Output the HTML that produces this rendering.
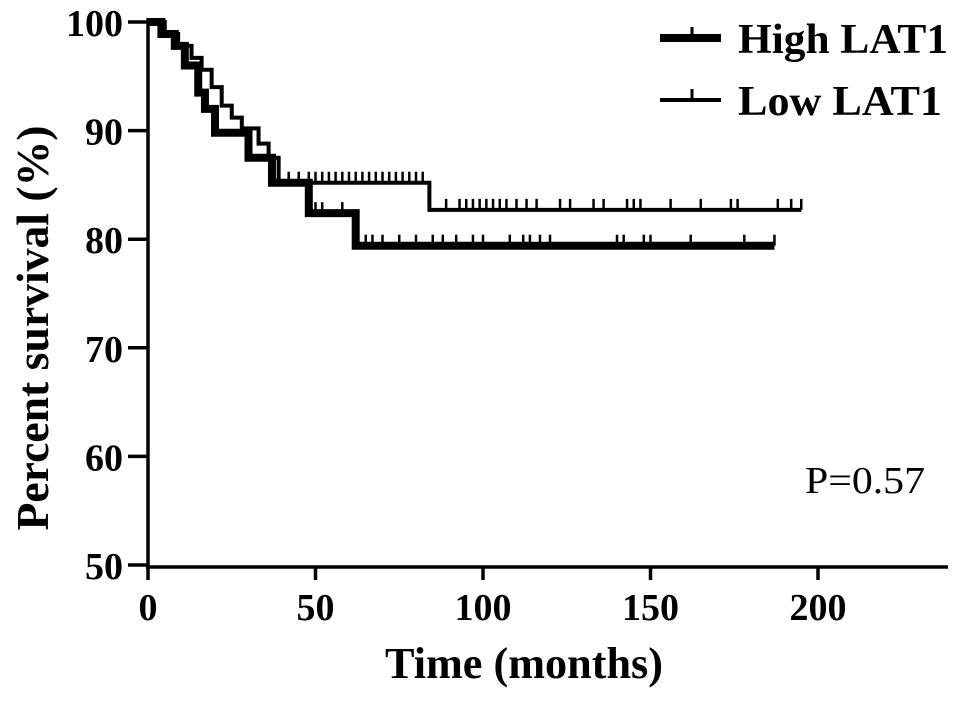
<!DOCTYPE html>
<html><head><meta charset="utf-8"><style>
body{margin:0;background:#fff}
svg text{font-family:"Liberation Serif",serif;fill:#000}
</style></head><body>
<svg id="chart" width="969" height="700" viewBox="0 0 969 700" xmlns="http://www.w3.org/2000/svg">
<g id="axes"></g>
<g id="series"></g>
<g>
  <line x1="660" y1="38" x2="721" y2="38" stroke="#000" stroke-width="8"/>
  <line x1="692" y1="38" x2="692" y2="27" stroke="#000" stroke-width="3"/>
  <text x="738" y="53" font-size="42" font-weight="bold" textLength="210" lengthAdjust="spacingAndGlyphs">High LAT1</text>
  <line x1="660" y1="100" x2="721" y2="100" stroke="#000" stroke-width="4"/>
  <line x1="692" y1="100" x2="692" y2="89" stroke="#000" stroke-width="3"/>
  <text x="738" y="115" font-size="42" font-weight="bold" textLength="204" lengthAdjust="spacingAndGlyphs">Low LAT1</text>
</g>
<text x="805" y="493" font-size="38" textLength="120" lengthAdjust="spacingAndGlyphs">P=0.57</text>
<text x="385" y="678" font-size="44" font-weight="bold" textLength="278" lengthAdjust="spacingAndGlyphs">Time (months)</text>
<text transform="translate(48,328) rotate(-90)" font-size="46" font-weight="bold" text-anchor="middle" textLength="405" lengthAdjust="spacingAndGlyphs">Percent survival (%)</text>
</svg>
<script>
const xTicks=[0,50,100,150,200];
const yTicks=[50,60,70,80,90,100];
const highTimes=[0,4,8,11,15,17,20,30,37,48,62];
const highSurv=[100,98.9,97.8,96,93.5,92,89.8,87.5,85.2,82.4,79.4];
const highEnd=187;
const highCensor=[50,52,58,65,67,70,75,80,85,88,92,97,100,108,112,114,117,120,140,142,148,150,162,178,187];
const lowTimes=[0,5,9,13,16,19,22,25,28,33,36,39,84];
const lowSurv=[100,98.9,97.8,96.7,95.6,94,92.3,91.2,90.2,88.8,87.5,85.2,82.7];
const lowEnd=195;
const lowCensor=[42,45,48,50,52,54,56,58,60,62,64,66,68,70,72,74,76,78,80,82,89,93,95,97,99,101,103,105,107,110,113,116,123,126,133,136,143,145,147,156,165,174,176,188,192,195];

const X=t=>148+t*3.35;
const Y=v=>22+(100-v)*10.86;
const NS="http://www.w3.org/2000/svg";
function mk(tag,attrs,parent){const e=document.createElementNS(NS,tag);for(const k in attrs)e.setAttribute(k,attrs[k]);parent.appendChild(e);return e;}
const axes=document.getElementById('axes');
let a=mk('line',{x1:148,y1:18,x2:148,y2:569,stroke:'#000','stroke-width':3.5},axes);


a=mk('line',{x1:146,y1:567,x2:948,y2:567,stroke:'#000','stroke-width':3.5},axes);


xTicks.forEach(t=>{
  const l=mk('line',{x1:X(t),y1:567,x2:X(t),y2:580,stroke:'#000','stroke-width':3.5},axes);
  
  
  const tx=mk('text',{x:X(t),y:620,'font-size':38,'font-weight':'bold','text-anchor':'middle'},axes);
  tx.textContent=t;
  
  
});
yTicks.forEach(v=>{
  const l=mk('line',{x1:128,y1:Y(v),x2:148,y2:Y(v),stroke:'#000','stroke-width':3.5},axes);
  
  
  const tx=mk('text',{x:123,y:Y(v)+14,'font-size':38,'font-weight':'bold','text-anchor':'end'},axes);
  tx.textContent=v;
  
  
});
const ser=document.getElementById('series');
function survAt(times,surv,t){let s=surv[0];for(let i=0;i<times.length;i++)if(times[i]<=t)s=surv[i];return s;}
function draw(times,surv,end,cens,w,name){
  let d='M'+X(times[0])+','+Y(surv[0]);
  for(let i=1;i<times.length;i++){d+=' H'+X(times[i])+' V'+Y(surv[i]);}
  d+=' H'+X(end);
  const p=mk('path',{d:d,fill:'none',stroke:'#000','stroke-width':w,'stroke-linejoin':'miter'},ser);
  
  
  cens.forEach(t=>{
    const y=Y(survAt(times,surv,t));
    const c=mk('line',{x1:X(t),y1:y,x2:X(t),y2:y-11,stroke:'#000','stroke-width':2.5},ser);
    
    
  });
}
draw(lowTimes,lowSurv,lowEnd,lowCensor,4,'low-lat1');
draw(highTimes,highSurv,highEnd,highCensor,8,'high-lat1');
</script>
</body></html>
